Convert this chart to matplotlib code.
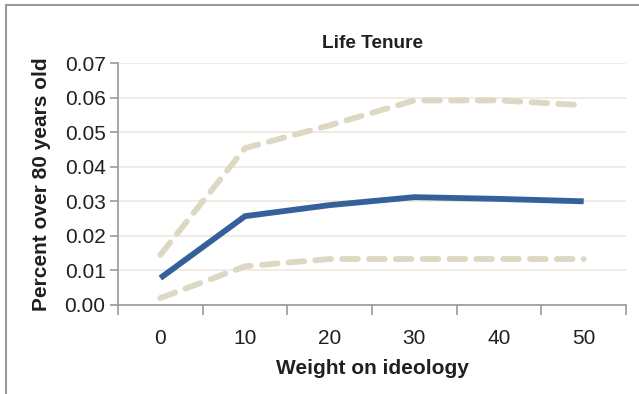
import numpy as np
import matplotlib
matplotlib.use("Agg")
import matplotlib.pyplot as plt
from matplotlib.patches import Rectangle

# weight on ideology (categories) and share of judges over 80
weights = [0, 10, 20, 30, 40, 50]
estimate = [0.0078, 0.0257, 0.0289, 0.0312, 0.0307, 0.0300]
upper = [0.0145, 0.0454, 0.0520, 0.0592, 0.0592, 0.0578]
lower = [0.0020, 0.0112, 0.0133, 0.0133, 0.0133, 0.0133]
yticks = [0.00, 0.01, 0.02, 0.03, 0.04, 0.05, 0.06, 0.07]

plt.rcParams['font.family'] = ['Liberation Sans', 'DejaVu Sans']

fig = plt.figure(figsize=(6.39, 3.94), dpi=100)
ax = fig.add_axes([0.1847, 0.2259, 0.795, 0.614])

# outer frame
fig.patches.append(Rectangle((6 / 639, -0.01), 1.0, 1 - 5 / 394 + 0.01,
                             transform=fig.transFigure, fill=False,
                             edgecolor='#9a9a9a', linewidth=1.5))

pos = np.arange(len(weights))
band = '#dcd8c4'
ax.plot(pos, upper, color=band, lw=4.2, dashes=(2.7, 1.9), solid_capstyle='round',
        dash_capstyle='round', zorder=3)
ax.plot(pos, lower, color=band, lw=4.2, dashes=(2.7, 1.9), solid_capstyle='round',
        dash_capstyle='round', zorder=3)
ax.plot(pos, estimate, color='#36609a', lw=4.2, solid_capstyle='butt', zorder=4)

ax.set_xlim(-0.5, len(weights) - 0.5)
ax.set_ylim(0, 0.07)
ax.set_yticks(yticks)
ax.set_yticklabels([f"{v:.2f}" for v in yticks])
ax.set_xticks(pos)
ax.set_xticklabels([str(w) for w in weights])
ax.set_xticks(np.arange(-0.5, len(weights)), minor=True)
ax.tick_params(axis='x', which='major', length=0, pad=17, labelsize=15, colors='#231f20')
ax.tick_params(axis='x', which='minor', length=7, width=1.2, color='#9a9a9a')
ax.tick_params(axis='y', length=6, width=1.2, color='#9a9a9a', labelsize=15,
               labelcolor='#231f20', pad=3)

ax.grid(axis='y', color='#ede9dc', lw=1.2)
ax.set_axisbelow(True)
for s in ['top', 'right']:
    ax.spines[s].set_visible(False)
for s in ['left', 'bottom']:
    ax.spines[s].set_color('#9a9a9a')
    ax.spines[s].set_linewidth(1.2)

ax.set_title('Life Tenure', fontsize=13.7, fontweight='bold', color='#231f20', pad=11)
ax.set_xlabel('Weight on ideology', fontsize=15, fontweight='bold', color='#231f20', labelpad=8)
ax.set_ylabel('Percent over 80 years old', fontsize=15, fontweight='bold', color='#231f20', labelpad=10)

fig.savefig('out.png', dpi=100)
